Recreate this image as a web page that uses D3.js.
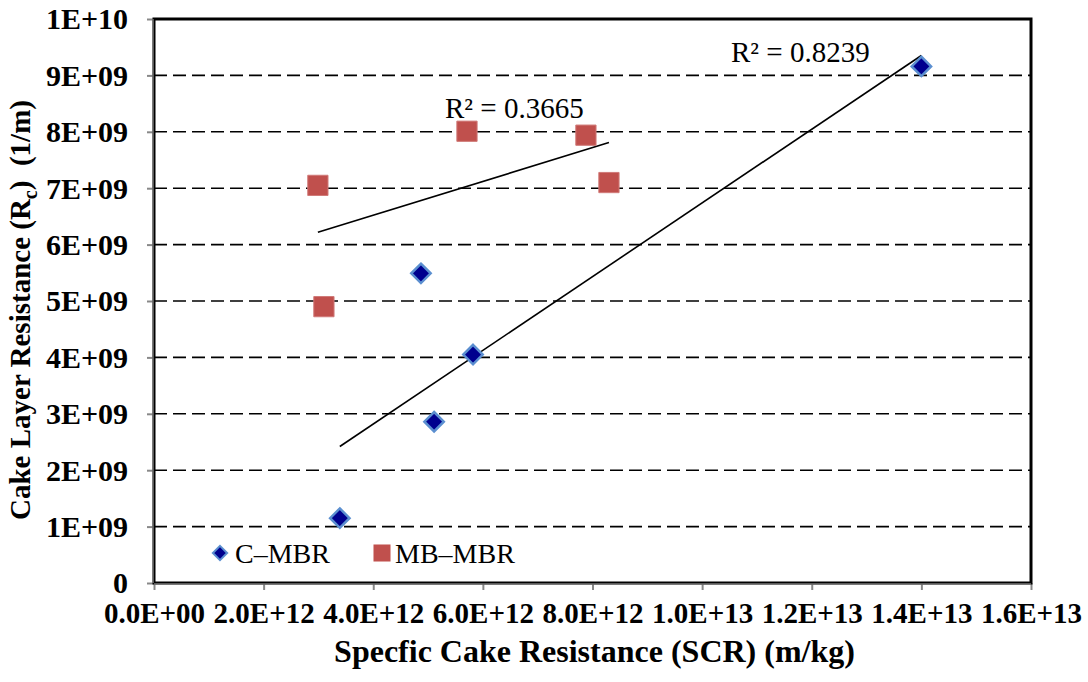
<!DOCTYPE html>
<html>
<head>
<meta charset="utf-8">
<script src="https://cdn.jsdelivr.net/npm/d3@7"></script>
<style>
  body { margin: 0; background: #fff; }
  text { font-family: "Liberation Serif", "Times New Roman", serif; }
</style>
</head>
<body>
<div id="chart"></div>
<script>
// data
const cmbrX = [3.39e12, 4.87e12, 5.82e12, 5.11e12, 14.0e12];
const cmbrY = [1.15e9, 5.49e9, 4.05e9, 2.86e9, 9.16e9];
const mbmbrX = [2.99e12, 3.10e12, 5.71e12, 7.88e12, 8.30e12];
const mbmbrY = [7.05e9, 4.90e9, 8.01e9, 7.94e9, 7.10e9];
const seriesNames = ["C\u2013MBR", "MB\u2013MBR"];
const r2Labels = ["R\u00b2 = 0.8239", "R\u00b2 = 0.3665"];
const xTicks = [0, 2e12, 4e12, 6e12, 8e12, 1e13, 1.2e13, 1.4e13, 1.6e13];
const xTickLabels = ["0.0E+00", "2.0E+12", "4.0E+12", "6.0E+12", "8.0E+12", "1.0E+13", "1.2E+13", "1.4E+13", "1.6E+13"];
const yTicks = [0, 1e9, 2e9, 3e9, 4e9, 5e9, 6e9, 7e9, 8e9, 9e9, 1e10];
const yTickLabels = ["0", "1E+09", "2E+09", "3E+09", "4E+09", "5E+09", "6E+09", "7E+09", "8E+09", "9E+09", "1E+10"];

const W = 1088, H = 682;
const margin = { top: 19, right: 57, bottom: 99, left: 154 },
    width = W - margin.left - margin.right,
    height = H - margin.top - margin.bottom;

const svg = d3.select("#chart")
    .append("svg")
    .attr("width", W)
    .attr("height", H)
    .append("g")
    .attr("transform", `translate(${margin.left}, ${margin.top})`);

const x = d3.scaleLinear().domain([0, 1.6e13]).range([0, width]);
const y = d3.scaleLinear().domain([0, 1e10]).range([height, 0]);

// gridlines
svg.append("g")
    .selectAll("line")
    .data(yTicks.slice(1, -1))
    .join("line")
    .attr("x1", 0).attr("x2", width)
    .attr("y1", d => y(d)).attr("y2", d => y(d))
    .attr("stroke", "#000")
    .attr("stroke-width", 1.6)
    .attr("stroke-dasharray", "13,6");

// axes
const xAxis = svg.append("g")
    .attr("transform", `translate(0, ${height})`)
    .call(d3.axisBottom(x).tickValues(xTicks)
        .tickFormat((d, i) => xTickLabels[i]).tickSize(7).tickSizeOuter(0).tickPadding(12));
const yAxis = svg.append("g")
    .call(d3.axisLeft(y).tickValues(yTicks)
        .tickFormat((d, i) => yTickLabels[i]).tickSize(7).tickSizeOuter(0).tickPadding(19));

[xAxis, yAxis].forEach(a => {
    a.select(".domain").remove();
    a.selectAll(".tick line").attr("stroke", "#888").attr("stroke-width", 2);
    a.selectAll(".tick text")
        .attr("fill", "#000")
        .style("font-family", "'Liberation Serif', serif")
        .style("font-weight", "bold")
        .style("font-size", "30px");
});
xAxis.selectAll(".tick text").style("font-size", "29px");
yAxis.selectAll(".tick text").attr("dy", "0.33em");

// plot border
svg.append("rect")
    .attr("x", 0).attr("y", 0)
    .attr("width", width).attr("height", height)
    .attr("fill", "none")
    .attr("stroke", "#000")
    .attr("stroke-width", 3);
svg.append("line")
    .attr("x1", -1).attr("x2", -1).attr("y1", 0).attr("y2", height)
    .attr("stroke", "#777").attr("stroke-width", 1.5);
svg.append("line")
    .attr("x1", 0).attr("x2", width).attr("y1", height + 1).attr("y2", height + 1)
    .attr("stroke", "#777").attr("stroke-width", 1.5);

// linear trendlines (least squares, like the spreadsheet trendline)
function fit(xs, ys) {
    const mx = d3.mean(xs), my = d3.mean(ys);
    const sxy = d3.sum(xs, (v, i) => (v - mx) * (ys[i] - my));
    const sxx = d3.sum(xs, v => (v - mx) * (v - mx));
    const b = sxy / sxx, a = my - b * mx;
    const x0 = d3.min(xs), x1 = d3.max(xs);
    return [[x0, a + b * x0], [x1, a + b * x1]];
}
const line = d3.line().x(d => x(d[0])).y(d => y(d[1]));
[fit(cmbrX, cmbrY), fit(mbmbrX, mbmbrY)].forEach(seg => {
    svg.append("path")
        .attr("d", line(seg))
        .attr("fill", "none")
        .attr("stroke", "#000")
        .attr("stroke-width", 1.6);
});

// markers
const diamond = d3.symbol().type(d3.symbolDiamond2).size(240);
const square = d3.symbol().type(d3.symbolSquare).size(410);

svg.append("g")
    .selectAll("path")
    .data(cmbrX.map((v, i) => [v, cmbrY[i]]))
    .join("path")
    .attr("d", diamond)
    .attr("transform", d => `translate(${x(d[0])}, ${y(d[1])})`)
    .attr("fill", "#00008e")
    .attr("stroke", "#5b8fd0")
    .attr("stroke-width", 2.5);

svg.append("g")
    .selectAll("path")
    .data(mbmbrX.map((v, i) => [v, mbmbrY[i]]))
    .join("path")
    .attr("d", square)
    .attr("transform", d => `translate(${x(d[0])}, ${y(d[1])})`)
    .attr("fill", "#c0504d")
    .attr("stroke", "#d07a78")
    .attr("stroke-width", 1);

// R² labels
svg.append("text")
    .attr("x", 577).attr("y", 43)
    .style("font-size", "29px")
    .text(r2Labels[0]);
svg.append("text")
    .attr("x", 291).attr("y", 99)
    .style("font-size", "29px")
    .text(r2Labels[1]);

// legend
const legend = svg.append("g").attr("transform", `translate(0, ${height - 30})`);
legend.append("path")
    .attr("d", d3.symbol().type(d3.symbolDiamond2).size(130))
    .attr("transform", "translate(66, 0)")
    .attr("fill", "#00008e")
    .attr("stroke", "#5b8fd0")
    .attr("stroke-width", 2);
legend.append("text")
    .attr("x", 81).attr("y", 10)
    .style("font-size", "28px")
    .text(seriesNames[0]);
legend.append("path")
    .attr("d", d3.symbol().type(d3.symbolSquare).size(290))
    .attr("transform", "translate(228, 0)")
    .attr("fill", "#c0504d");
legend.append("text")
    .attr("x", 241).attr("y", 10)
    .style("font-size", "28px")
    .text(seriesNames[1]);

// axis titles
svg.append("text")
    .attr("text-anchor", "middle")
    .attr("x", width / 2 + 2)
    .attr("y", height + 79)
    .style("font-size", "32px")
    .style("font-weight", "bold")
    .text("Specfic Cake Resistance (SCR) (m/kg)");

const yt = svg.append("text")
    .attr("text-anchor", "middle")
    .attr("transform", `translate(${-124}, ${height / 2 + 9}) rotate(-90)`)
    .style("font-size", "29px")
    .style("font-weight", "bold");
yt.append("tspan").text("Cake Layer Resistance (R");
yt.append("tspan").attr("dy", 7).style("font-size", "20px").text("c");
yt.append("tspan").attr("dy", -7).text(")\u00a0\u00a0(1/m)");
</script>
</body>
</html>
